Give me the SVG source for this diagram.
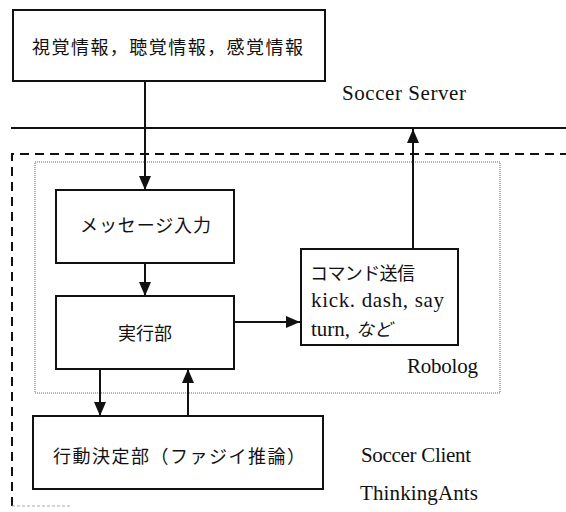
<svg xmlns="http://www.w3.org/2000/svg" width="566" height="512" viewBox="0 0 566 512">
<style>
.box{fill:#fff;stroke:#111;stroke-width:2}
.jp{font-family:"Liberation Serif","Noto Sans CJK JP",serif;font-size:18px;fill:#111}
.en{font-family:"Liberation Serif",serif;font-size:21px;fill:#111}
.ln{stroke:#111;stroke-width:2;fill:none}
</style>
<defs>
<marker id="ah2" viewBox="0 0 14 12" refX="14" refY="6" markerWidth="14" markerHeight="12" markerUnits="userSpaceOnUse" orient="auto">
<path d="M0,0 L14,6 L0,12 Z" fill="#111"/>
</marker>
</defs>
<rect width="566" height="512" fill="#fff"/>
<g id="frames">
<line x1="11" y1="128" x2="566" y2="128" stroke="#111" stroke-width="2"/>
<path d="M12,506 L12,154 L566,154" fill="none" stroke="#111" stroke-width="2" stroke-dasharray="9,6"/>
<line x1="12" y1="506" x2="70" y2="506" stroke="#aaa" stroke-width="1" stroke-dasharray="3,2"/>
<rect x="35" y="162" width="465" height="231" fill="none" stroke="#666" stroke-width="1" stroke-dasharray="1,1"/>
<text class="en" x="342" y="100" textLength="124">Soccer Server</text>
<text class="en" x="407" y="373" textLength="71">Robolog</text>
<text class="en" x="361" y="462" textLength="110">Soccer Client</text>
<text class="en" x="360" y="500" textLength="118">ThinkingAnts</text>
</g>
<g id="connectors">
<line class="ln" x1="145" y1="81" x2="145" y2="190" marker-end="url(#ah2)"/>
<line class="ln" x1="145" y1="263" x2="145" y2="296" marker-end="url(#ah2)"/>
<line class="ln" x1="234" y1="322" x2="300" y2="322" marker-end="url(#ah2)"/>
<line class="ln" x1="413" y1="249" x2="413" y2="129" marker-end="url(#ah2)"/>
<line class="ln" x1="100" y1="369" x2="100" y2="416" marker-end="url(#ah2)"/>
<line class="ln" x1="188" y1="416" x2="188" y2="369" marker-end="url(#ah2)"/>
</g>
<g id="sensor">
<rect class="box" x="13" y="10" width="312" height="71"/>
<text class="jp" x="32" y="54" textLength="271" font-size="19">視覚情報，聴覚情報，感覚情報</text>
</g>
<g id="message">
<rect class="box" x="56" y="190" width="178" height="73"/>
<text class="jp" x="80" y="232" textLength="131">メッセージ入力</text>
</g>
<g id="exec">
<rect class="box" x="56" y="296" width="178" height="73"/>
<text class="jp" x="118" y="340" textLength="54">実行部</text>
</g>
<g id="command">
<rect class="box" x="301" y="249" width="157" height="96"/>
<text class="jp" x="310" y="280" textLength="105">コマンド送信</text>
<text class="en" x="311" y="307" textLength="133">kick. dash, say</text>
<text class="en" x="311" y="336">turn,<tspan class="jp" dx="6" font-style="italic">など</tspan></text>
</g>
<g id="decision">
<rect class="box" x="33" y="416" width="290" height="73"/>
<text class="jp" x="53" y="463" textLength="252" font-size="19">行動決定部（ファジイ推論）</text>
</g>
</svg>
